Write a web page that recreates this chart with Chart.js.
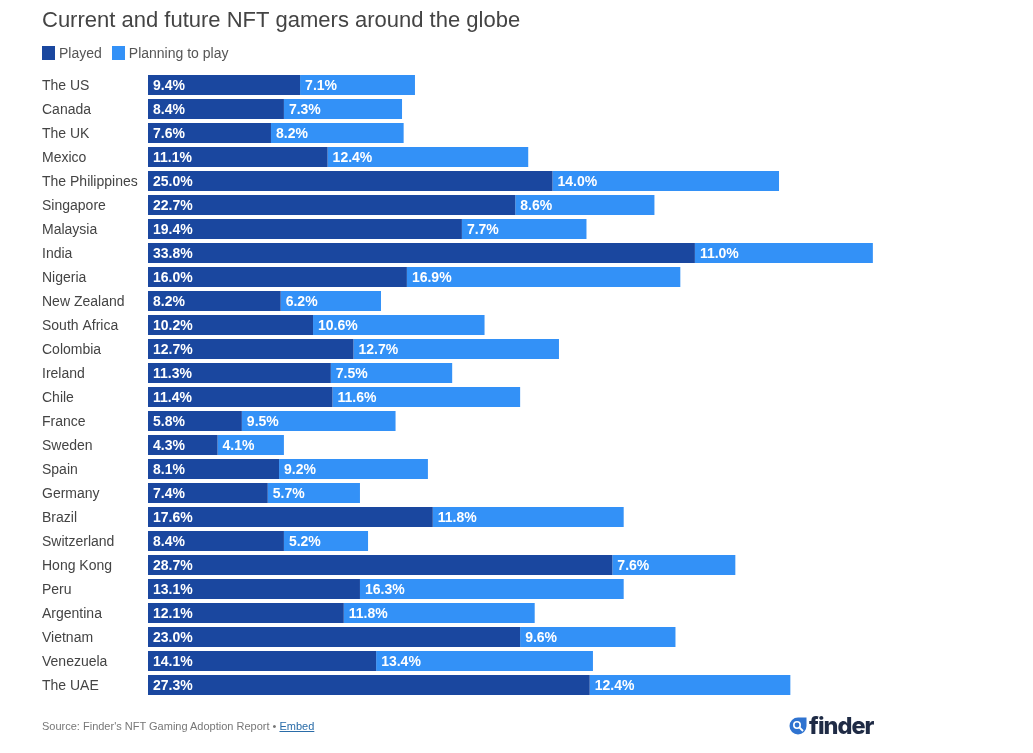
<!DOCTYPE html>
<html><head><meta charset="utf-8">
<script src="https://cdn.jsdelivr.net/npm/chart.js@4"></script>
<style>
html,body{margin:0;padding:0;background:#fff;overflow:hidden}
#wrap{position:relative;width:1033px;height:753px;font-family:"Liberation Sans",Arial,sans-serif}
canvas{position:absolute;left:0;top:0}
#legend{position:absolute;left:42px;top:45px;display:flex;font-size:14px;color:#555;line-height:16px}
#legend span.i{display:flex;align-items:center;margin-right:10px}
#legend i{display:block;width:13px;height:14px;margin-right:4px}
#source{position:absolute;left:42px;top:719px;font-size:11px;color:#777;line-height:14px}
#source a{color:#2a6ca8;text-decoration:underline}
#logo{position:absolute;left:789px;top:711px;display:flex;align-items:center;height:30px}
#logo b{font-family:"Inter","Liberation Sans",sans-serif;font-size:23.5px;font-weight:800;color:#1f2b45;letter-spacing:-1px;margin-left:2px;line-height:30px}
</style></head><body>
<div id="wrap">
<canvas id="c" width="1033" height="753"></canvas>
<div id="legend"></div>
<div id="source">Source: Finder's NFT Gaming Adoption Report • <a href="#">Embed</a></div>
<div id="logo"><svg width="18" height="18" viewBox="0 0 18 18"><path d="M9 0.5H17.5V9A8.5 8.5 0 1 1 9 0.5Z" fill="#2f73d0"/><circle cx="8" cy="8" r="3.2" fill="none" stroke="#fff" stroke-width="1.6"/><path d="M10.5 10.5L14 14" stroke="#fff" stroke-width="1.8"/></svg><b>finder</b></div>
</div>
<script>
const categories = ["The US","Canada","The UK","Mexico","The Philippines","Singapore","Malaysia","India","Nigeria","New Zealand","South Africa","Colombia","Ireland","Chile","France","Sweden","Spain","Germany","Brazil","Switzerland","Hong Kong","Peru","Argentina","Vietnam","Venezuela","The UAE"];
const played = [9.4,8.4,7.6,11.1,25.0,22.7,19.4,33.8,16.0,8.2,10.2,12.7,11.3,11.4,5.8,4.3,8.1,7.4,17.6,8.4,28.7,13.1,12.1,23.0,14.1,27.3];
const planning = [7.1,7.3,8.2,12.4,14.0,8.6,7.7,11.0,16.9,6.2,10.6,12.7,7.5,11.6,9.5,4.1,9.2,5.7,11.8,5.2,7.6,16.3,11.8,9.6,13.4,12.4];
const seriesNames = ["Played","Planning to play"];
const seriesColors = ["#1a479f","#3391f7"];

const barLabels = {
  id:'barLabels',
  afterDatasetsDraw(chart){
    const ctx = chart.ctx;
    ctx.save();
    ctx.font = 'bold 14px "Liberation Sans",Arial,sans-serif';
    ctx.fillStyle = '#fff';
    ctx.textBaseline = 'middle';
    ctx.textAlign = 'left';
    chart.data.datasets.forEach((ds,di)=>{
      chart.getDatasetMeta(di).data.forEach((el,i)=>{
        const left = Math.min(el.x, el.base);
        ctx.fillText(ds.data[i].toFixed(1)+'%', left+5, el.y+1.5);
      });
    });
    ctx.restore();
  }
};

const chart = new Chart(document.getElementById('c'),{
  type:'bar',
  data:{
    labels:categories,
    datasets:[
      {label:seriesNames[0],data:played,backgroundColor:seriesColors[0],borderWidth:0},
      {label:seriesNames[1],data:planning,backgroundColor:seriesColors[1],borderWidth:0}
    ]
  },
  options:{
    indexAxis:'y',
    responsive:false,
    animation:false,
    devicePixelRatio:1,
    categoryPercentage:1,
    barPercentage:0.833,
    layout:{padding:{left:42,right:76,top:8,bottom:56}},
    plugins:{
      legend:{display:false},
      tooltip:{enabled:false},
      title:{display:true,text:'Current and future NFT gamers around the globe',align:'start',
        color:'#444',font:{family:'"Liberation Sans",Arial,sans-serif',size:22,weight:'normal'},
        padding:{top:0,bottom:38.6}}
    },
    scales:{
      x:{stacked:true,min:0,max:50,display:false},
      y:{stacked:true,
        grid:{display:false,drawTicks:false},
        border:{display:false},
        afterFit(s){s.width=106;},
        ticks:{autoSkip:false,crossAlign:'far',padding:7,labelOffset:1.5,color:'#444',
          font:{family:'"Liberation Sans",Arial,sans-serif',size:14}}
      }
    }
  },
  plugins:[barLabels]
});

document.getElementById('legend').innerHTML = chart.data.datasets.map(d=>
  `<span class="i"><i style="background:${d.backgroundColor}"></i>${d.label}</span>`).join('');
</script>
</body></html>
